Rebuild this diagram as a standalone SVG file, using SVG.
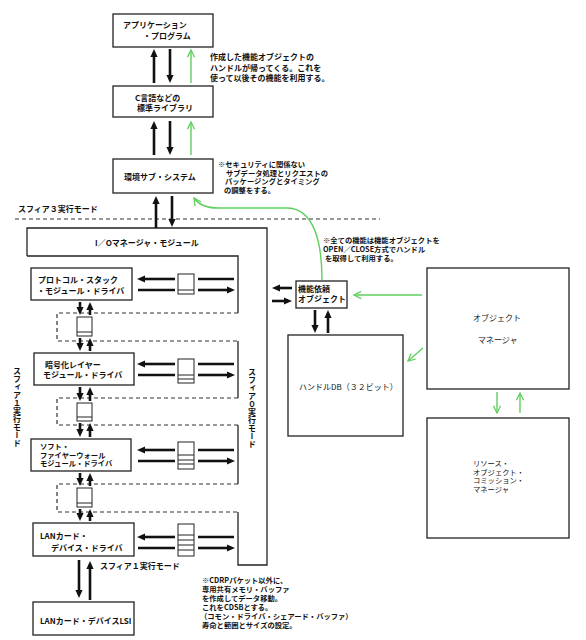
<svg xmlns="http://www.w3.org/2000/svg" width="586" height="640" viewBox="0 0 586 640">
<style>
text{font-family:"Noto Sans CJK JP","Noto Sans",sans-serif;font-size:8px;fill:#111}
.b{font-weight:bold}
.s{font-size:7.3px}
.box{fill:#fff;stroke:#222;stroke-width:1.3}
.frame{fill:none;stroke:#222;stroke-width:1.3}
.dash{fill:none;stroke:#333;stroke-width:1.2;stroke-dasharray:4 3}
.ar{stroke:#111;stroke-width:2.6;fill:none}
.arm{stroke:#111;stroke-width:2.6;fill:none;marker-end:url(#ah)}
.g{stroke:#5fcf5f;stroke-width:1.4;fill:none;marker-end:url(#ga)}
.buf{fill:#fff;stroke:#222;stroke-width:1}
.vt{writing-mode:vertical-rl}
</style>
<defs>
<marker id="ah" viewBox="0 0 10 10" refX="2.5" refY="5" markerWidth="8" markerHeight="8" markerUnits="userSpaceOnUse" orient="auto">
<path d="M0,0.5 L10,5 L0,9.5 z" fill="#111"/>
</marker>
<marker id="ga" viewBox="0 0 10 10" refX="9" refY="5" markerWidth="9" markerHeight="9" markerUnits="userSpaceOnUse" orient="auto">
<path d="M1,1 L9,5 L1,9" fill="none" stroke="#5fcf5f" stroke-width="1.4"/>
</marker>
</defs>
<rect width="586" height="640" fill="#fff"/>

<g id="io-manager">
<path class="frame" d="M27,256 L27,228 L267,228 L267,565 L238,565 L238,512"/>
<path class="frame" d="M27,256 L238,256 L238,313 M238,341 L238,398 M238,425 L238,484"/>
<path class="dash" d="M238,313 L57,313 L57,341 L238,341 M238,398 L57,398 L57,425 L238,425 M238,484 L57,484 L57,512 L238,512"/>
<text class="b" x="95" y="246">I／Oマネージャ・モジュール</text>
</g>

<g id="sphere3">
<line class="dash" x1="15" y1="219" x2="380" y2="219"/>
<text class="b" x="18" y="212">スフィア３実行モード</text>
</g>

<g id="app">
<rect class="box" x="113" y="14" width="100" height="33"/>
<text class="b" x="123" y="28">アプリケーション</text>
<text class="b" x="143" y="39">・プログラム</text>
</g>
<g id="clib">
<rect class="box" x="113" y="86" width="100" height="31"/>
<text class="b" x="135" y="101">C言語などの</text>
<text class="b" x="137" y="111">標準ライブラリ</text>
</g>
<g id="env">
<rect class="box" x="113" y="159" width="100" height="34"/>
<text class="b" x="124" y="180">環境サブ・システム</text>
</g>

<g id="protocol">
<rect class="box" x="31" y="268" width="101" height="32"/>
<text class="b" x="38" y="283">プロトコル・スタック</text>
<text class="b" x="37" y="294">・モジュール・ドライバ</text>
</g>
<g id="crypto">
<rect class="box" x="34" y="353" width="100" height="32"/>
<text class="b" x="45" y="368">暗号化レイヤー</text>
<text class="b" x="43" y="378">モジュール・ドライバ</text>
</g>
<g id="firewall">
<rect class="box" x="31" y="439" width="100" height="32"/>
<text class="b s" x="40" y="449">ソフト・</text>
<text class="b s" x="40" y="457.5">ファイヤーウォール</text>
<text class="b s" x="40" y="466">モジュール・ドライバ</text>
</g>
<g id="landriver">
<rect class="box" x="33" y="523" width="101" height="33"/>
<text class="b" x="40" y="539">LANカード・</text>
<text class="b" x="51" y="551">デバイス・ドライバ</text>
</g>
<g id="lanlsi">
<rect class="box" x="33" y="602" width="101" height="33"/>
<text class="b" x="40" y="624">LANカード・デバイスLSI</text>
</g>

<g id="request-object">
<rect class="box" x="296" y="281" width="51" height="27"/>
<text class="b" x="298" y="292">機能依頼</text>
<text class="b" x="298" y="302">オブジェクト</text>
</g>
<g id="handle-db">
<rect class="box" x="288" y="335" width="115" height="101"/>
<text x="299" y="390">ハンドルDB（３２ビット）</text>
</g>
<g id="object-manager">
<rect class="box" x="427" y="268" width="142" height="121"/>
<text x="473" y="321">オブジェクト</text>
<text x="478" y="343">マネージャ</text>
</g>
<g id="resource-manager">
<rect class="box" x="427" y="418" width="142" height="120"/>
<text class="s" x="473" y="466">リソース・</text>
<text class="s" x="473" y="474.5">オブジェクト・</text>
<text class="s" x="473" y="483">コミッション・</text>
<text class="s" x="473" y="491.5">マネージャ</text>
</g>

<g id="buffers">
<rect class="buf" x="178" y="274" width="16" height="20"/>
<line class="buf" x1="178" y1="290" x2="194" y2="290"/>
<rect class="buf" x="178" y="359" width="16" height="24"/>
<path class="buf" d="M178,375 H194 M178,379 H194"/>
<rect class="buf" x="178" y="442" width="16" height="27"/>
<path class="buf" d="M178,455 H194 M178,460 H194 M178,464 H194"/>
<rect class="buf" x="178" y="524" width="16" height="32"/>
<path class="buf" d="M178,535 H194 M178,540 H194 M178,545 H194 M178,550 H194"/>
<rect class="buf" x="77" y="317" width="15" height="19"/>
<line class="buf" x1="77" y1="332" x2="92" y2="332"/>
<rect class="buf" x="77" y="403" width="15" height="18"/>
<line class="buf" x1="77" y1="417" x2="92" y2="417"/>
<rect class="buf" x="77" y="488" width="15" height="19"/>
<line class="buf" x1="77" y1="503" x2="92" y2="503"/>
</g>

<g id="connectors">
<line class="arm" x1="154" y1="83" x2="154" y2="55"/>
<line class="arm" x1="170" y1="49" x2="170" y2="77"/>
<line class="g" x1="191" y1="83" x2="191" y2="50"/>
<line class="arm" x1="154" y1="155" x2="154" y2="127"/>
<line class="arm" x1="170" y1="121" x2="170" y2="149"/>
<line class="g" x1="191" y1="155" x2="191" y2="122"/>
<line class="arm" x1="156" y1="228" x2="156" y2="202"/>
<line class="arm" x1="172" y1="196" x2="172" y2="221"/>
<line class="ar" x1="234" y1="279" x2="198" y2="279"/>
<line class="arm" x1="175" y1="279" x2="143" y2="279"/>
<line class="ar" x1="138" y1="290" x2="175" y2="290"/>
<line class="arm" x1="198" y1="290" x2="229" y2="290"/>
<line class="ar" x1="234" y1="364" x2="198" y2="364"/>
<line class="arm" x1="175" y1="364" x2="143" y2="364"/>
<line class="ar" x1="138" y1="375" x2="175" y2="375"/>
<line class="arm" x1="198" y1="375" x2="229" y2="375"/>
<line class="ar" x1="234" y1="450" x2="198" y2="450"/>
<line class="arm" x1="175" y1="450" x2="143" y2="450"/>
<line class="ar" x1="138" y1="461" x2="175" y2="461"/>
<line class="arm" x1="198" y1="461" x2="229" y2="461"/>
<line class="ar" x1="234" y1="537" x2="198" y2="537"/>
<line class="arm" x1="175" y1="537" x2="143" y2="537"/>
<line class="ar" x1="138" y1="548" x2="175" y2="548"/>
<line class="arm" x1="198" y1="548" x2="229" y2="548"/>
<line class="arm" x1="80" y1="302" x2="80" y2="309"/>
<line class="arm" x1="80" y1="338" x2="80" y2="345"/>
<line class="arm" x1="90" y1="315" x2="90" y2="308"/>
<line class="arm" x1="90" y1="351" x2="90" y2="344"/>
<line class="arm" x1="80" y1="387" x2="80" y2="395"/>
<line class="arm" x1="80" y1="423" x2="80" y2="431"/>
<line class="arm" x1="90" y1="401" x2="90" y2="393"/>
<line class="arm" x1="90" y1="437" x2="90" y2="429"/>
<line class="arm" x1="80" y1="473" x2="80" y2="480"/>
<line class="arm" x1="80" y1="509" x2="80" y2="515"/>
<line class="arm" x1="90" y1="486" x2="90" y2="479"/>
<line class="arm" x1="90" y1="521" x2="90" y2="515"/>
<line class="arm" x1="79" y1="560" x2="79" y2="592"/>
<line class="arm" x1="90" y1="600" x2="90" y2="567"/>
<line class="arm" x1="292" y1="288" x2="278" y2="288"/>
<line class="arm" x1="272" y1="301" x2="286" y2="301"/>
<line class="arm" x1="315" y1="310" x2="315" y2="327"/>
<line class="arm" x1="328" y1="333" x2="328" y2="316"/>
<line class="g" x1="422" y1="295" x2="354" y2="295"/>
<line class="g" x1="423" y1="348" x2="408" y2="361"/>
<line class="g" x1="497" y1="392" x2="497" y2="413"/>
<line class="g" x1="520" y1="413" x2="520" y2="393"/>
<path class="g" d="M322,280 C322,240 313,209 288,208 L218,208 C206,208 198,204 194,198"/>
</g>

<g id="notes">
<text class="b" x="210" y="60">作成した機能オブジェクトの</text>
<text class="b" x="210" y="71">ハンドルが帰ってくる。これを</text>
<text class="b" x="210" y="81">使って以後その機能を利用する。</text>
<text class="b s" x="218" y="167">※セキュリティに関係ない</text>
<text class="b s" x="226" y="175.5">サブデータ処理とリクエストの</text>
<text class="b s" x="225" y="184">パッケージングとタイミング</text>
<text class="b s" x="224" y="192.5">の調整をする。</text>
<text class="b s" x="323" y="243">※全ての機能は機能オブジェクトを</text>
<text class="b s" x="323" y="252">OPEN／CLOSE方式でハンドル</text>
<text class="b s" x="325" y="261">を取得して利用する。</text>
<text class="b" x="100" y="569">スフィア１実行モード</text>
<text class="b vt" x="17" y="367">スフィア１実行モード</text>
<text class="b vt" x="252" y="368">スフィア０実行モード</text>
<text class="b s" x="202" y="583">※CDRPパケット以外に、</text>
<text class="b s" x="202" y="592">専用共有メモリ・バッファ</text>
<text class="b s" x="202" y="601">を作成してデータ移動。</text>
<text class="b s" x="202" y="610">これをCDSBとする。</text>
<text class="b s" x="200" y="619">（コモン・ドライバ・シェアード・バッファ）</text>
<text class="b s" x="202" y="628">寿命と範囲とサイズの設定。</text>
</g>
</svg>
